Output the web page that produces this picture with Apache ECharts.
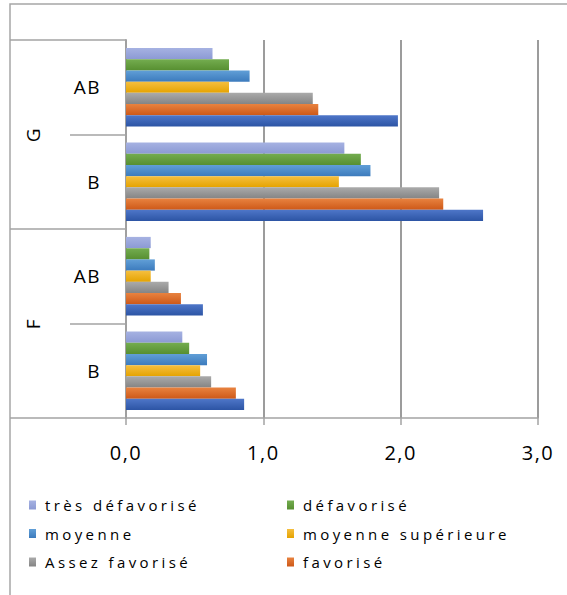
<!DOCTYPE html>
<html>
<head>
<meta charset="utf-8">
<script src="https://cdn.jsdelivr.net/npm/echarts@6/dist/echarts.min.js"></script>
<style>
  html, body { margin: 0; padding: 0; background: #ffffff; }
  #chart { width: 567px; height: 595px; }
</style>
</head>
<body>
<div id="chart"></div>
<script>
// Categories, bottom to top: [group, sub-category]
var groups = ['F', 'G'];
var categories = ['F|B', 'F|AB', 'G|B', 'G|AB'];

// Series values, in category order F-B, F-AB, G-B, G-AB
var tresDefavorise   = [0.41, 0.18, 1.59, 0.63];
var defavorise       = [0.46, 0.17, 1.71, 0.75];
var moyenne          = [0.59, 0.21, 1.78, 0.90];
var moyenneSup       = [0.54, 0.18, 1.55, 0.75];
var assezFavorise    = [0.62, 0.31, 2.28, 1.36];
var favorise         = [0.80, 0.40, 2.31, 1.40];
var tresFavorise     = [0.86, 0.56, 2.60, 1.98];

var xTicks = [0, 1, 2, 3];

// first series is drawn at the top of each category band
var seriesDefs = [
  { name: 'très défavorisé',    data: tresDefavorise,c: ['#A6B2E2', '#8C9AD4'] },
  { name: 'défavorisé',         data: defavorise,    c: ['#74AD50', '#578F31'] },
  { name: 'moyenne',            data: moyenne,       c: ['#619FD7', '#3C7BBD'] },
  { name: 'moyenne supérieure', data: moyenneSup,    c: ['#F5BF40', '#E5A300'] },
  { name: 'Assez favorisé',     data: assezFavorise, c: ['#AAAAAA', '#848484'] },
  { name: 'favorisé',           data: favorise,      c: ['#E8823F', '#CD5818'] },
  { name: 'très favorisé',      data: tresFavorise,  c: ['#4E76C8', '#2C54A4'] }
];

var chart = echarts.init(document.getElementById('chart'), null, { renderer: 'svg' });

var FONT = '"Open Sans", "Liberation Sans", sans-serif';
var lineCol = '#A3A3A3';

var option = {
  animation: false,
  backgroundColor: '#ffffff',
  textStyle: { fontFamily: FONT, color: '#000000' },
  grid: { left: 126, right: 29, top: 40, bottom: 177, containLabel: false },
  xAxis: {
    type: 'value',
    min: xTicks[0], max: xTicks[xTicks.length - 1], interval: 1,
    axisLine: { show: true, lineStyle: { color: lineCol, width: 1.5 } },
    axisTick: { show: true, length: 7, lineStyle: { color: lineCol, width: 1.5 } },
    splitLine: { show: true, lineStyle: { color: '#9C9C9C', width: 2 } },
    axisLabel: {
      margin: 24, fontSize: 20, color: '#000000', fontFamily: FONT,
      formatter: function (v) { return v.toFixed(1).replace('.', ','); }
    }
  },
  yAxis: [
    {
      type: 'category',
      data: categories,
      position: 'left',
      axisLine: { show: true, lineStyle: { color: '#A0A0A0', width: 2 } },
      axisTick: { show: true, length: 56, inside: false, lineStyle: { color: lineCol, width: 1.5 } },
      splitLine: { show: false },
      axisLabel: {
        margin: 25, fontSize: 19, color: '#000000', fontFamily: FONT,
        formatter: function (v) { return v.split('|')[1]; }
      }
    },
    {
      type: 'category',
      data: groups,
      position: 'left',
      offset: 56,
      axisLine: { show: false },
      axisTick: { show: true, length: 60, lineStyle: { color: lineCol, width: 1.5 } },
      splitLine: { show: false },
      axisLabel: { rotate: 90, margin: 28, fontSize: 19, color: '#000000', fontFamily: FONT }
    }
  ],
  legend: [
    {
      orient: 'vertical', left: 29, top: 496, padding: 0,
      itemWidth: 7, itemHeight: 9, itemGap: 10.5, icon: 'rect',
      data: ['très défavorisé', 'moyenne', 'Assez favorisé'],
      textStyle: { fontSize: 15, lineHeight: 18, fontFamily: FONT, color: '#000000', padding: [0, 0, 0, 4] }
    },
    {
      orient: 'vertical', left: 287, top: 496, padding: 0,
      itemWidth: 7, itemHeight: 9, itemGap: 10.5, icon: 'rect',
      data: ['défavorisé', 'moyenne supérieure', 'favorisé'],
      textStyle: { fontSize: 15, lineHeight: 18, fontFamily: FONT, color: '#000000', padding: [0, 0, 0, 4] }
    }
  ],
  graphic: [
    {
      type: 'rect', silent: true, z: -1,
      shape: { x: 10, y: 4, width: 700, height: 800 },
      style: { fill: 'none', stroke: '#A6A6A6', lineWidth: 1.5 }
    }
  ],
  series: seriesDefs.map(function (s) {
    return {
      name: s.name,
      type: 'bar',
      yAxisIndex: 0,
      data: s.data,
      barGap: '0%',
      barCategoryGap: '16.7%',
      itemStyle: {
        color: new echarts.graphic.LinearGradient(0, 0, 0, 1, [
          { offset: 0, color: s.c[0] },
          { offset: 1, color: s.c[1] }
        ])
      },
      emphasis: { disabled: true }
    };
  })
};

chart.setOption(option);

function applySpacing() {
  var texts = document.querySelectorAll('#chart text');
  for (var i = 0; i < texts.length; i++) {
    var t = texts[i];
    var fs = parseFloat(window.getComputedStyle(t).fontSize) || 0;
    var sp = fs <= 16 ? '3.4px' : '1.5px';
    t.setAttribute('letter-spacing', sp);
    t.style.letterSpacing = sp;
  }
}
chart.on('finished', applySpacing);
applySpacing();
setTimeout(applySpacing, 50);
setTimeout(applySpacing, 300);
</script>
</body>
</html>
